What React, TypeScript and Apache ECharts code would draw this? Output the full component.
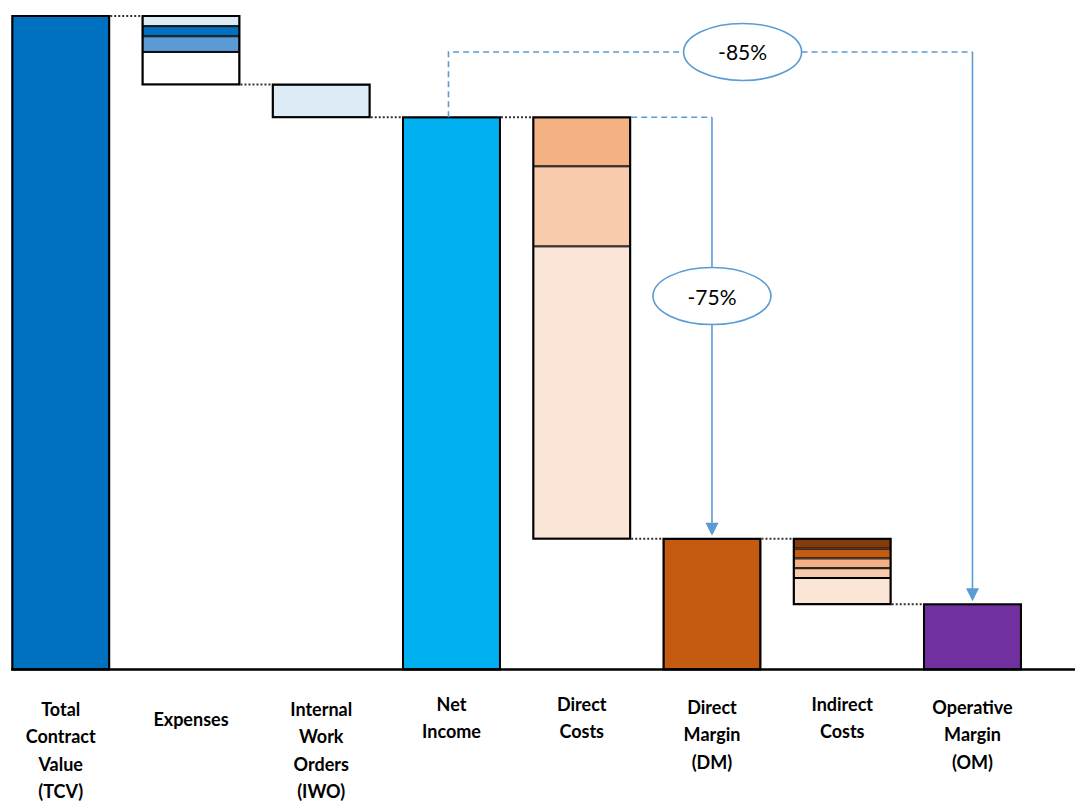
import React, { useEffect, useRef } from "react";
import * as echarts from "echarts";

const categories = [
  "Total\nContract\nValue\n(TCV)",
  "Expenses",
  "Internal\nWork\nOrders\n(IWO)",
  "Net\nIncome",
  "Direct\nCosts",
  "Direct\nMargin\n(DM)",
  "Indirect\nCosts",
  "Operative\nMargin\n(OM)",
];
const isTotal = [true, false, false, true, false, true, false, true];

// segment values per category, bottom to top
const tcvSegments = [100];
const expensesSegments = [5.0, 2.4, 1.55, 1.55];
const iwoSegments = [5.0];
const netIncomeSegments = [84.5];
const directCostsSegments = [44.75, 12.25, 7.5];
const directMarginSegments = [20];
const indirectCostsSegments = [4.0, 1.5, 1.5, 1.5, 1.5];
const operativeMarginSegments = [10];

const percentLabels = ["-85%", "-75%"];

const segments = [
  tcvSegments,
  expensesSegments,
  iwoSegments,
  netIncomeSegments,
  directCostsSegments,
  directMarginSegments,
  indirectCostsSegments,
  operativeMarginSegments,
];

const segmentColors = [
  ["#0070C0"],
  ["#FFFFFF", "#5B9BD5", "#0070C0", "#DDEBF7"],
  ["#DDEBF7"],
  ["#00B0F0"],
  ["#FBE5D6", "#F8CBAD", "#F4B183"],
  ["#C55A11"],
  ["#FBE5D6", "#F8CBAD", "#F4B183", "#C55A11", "#843C0C"],
  ["#7030A0"],
];

// label vertical groups (layout only)
const labelGroup = [2, 3, 2, 0, 0, 1, 0, 1];
const labelMargins = [20.8, 23.8, 25.8, 35.8];

const BAR_W = 97;
const BLUE = "#5B9BD5";

export default function App() {
  const ref = useRef<HTMLDivElement>(null);

  useEffect(() => {
    if (!ref.current) return;
    const chart = echarts.init(ref.current, null, { renderer: "svg" });

    const bases: number[] = [];
    const levels: number[] = [];
    const outline: number[][] = [];
    let level = 0;
    segments.forEach((segs, i) => {
      const sum = segs.reduce((a, b) => a + b, 0);
      let b = 0;
      if (isTotal[i]) {
        level = sum;
      } else {
        b = level - sum;
        level = b;
      }
      bases.push(b);
      levels.push(level);
      outline.push([i, b, b + sum]);
    });

    const maxSeg = Math.max(...segments.map((s) => s.length));
    const series: any[] = [
      {
        type: "bar",
        stack: "w",
        barWidth: BAR_W,
        silent: true,
        data: bases,
        itemStyle: { color: "transparent", borderWidth: 0 },
      },
    ];
    for (let k = 0; k < maxSeg; k++) {
      series.push({
        type: "bar",
        stack: "w",
        barWidth: BAR_W,
        data: segments.map((s, i) =>
          s[k] != null ? { value: s[k], itemStyle: { color: segmentColors[i][k] } } : "-"
        ),
        itemStyle: { borderColor: "#000", borderWidth: 1 },
      });
    }
    // outer outline of each bar
    series.push({
      type: "custom",
      silent: true,
      z: 5,
      data: outline,
      encode: { x: 0, y: [1, 2] },
      renderItem: (params: any, api: any) => {
        const i = api.value(0);
        const lo = api.coord([i, api.value(1)]);
        const hi = api.coord([i, api.value(2)]);
        return {
          type: "rect",
          shape: { x: lo[0] - BAR_W / 2, y: hi[1], width: BAR_W, height: lo[1] - hi[1] },
          style: { fill: "none", stroke: "#000", lineWidth: 2 },
        };
      },
    });

    const xAxes = labelMargins.map((m, g) => ({
      type: "category",
      data: categories,
      gridIndex: 0,
      position: "bottom",
      offset: 0,
      axisLine: { show: false },
      axisTick: { show: false },
      axisLabel: {
        interval: 0,
        margin: m,
        verticalAlign: "top",
        lineHeight: 27.3,
        color: "#000",
        fontFamily: "Lato",
        fontWeight: "bold",
        fontSize: 18,
        formatter: (v: string, i: number) => (labelGroup[i] === g ? v : ""),
      },
    }));

    chart.setOption({
      animation: false,
      grid: {
        left: -4.4,
        width: 1042,
        top: 16,
        height: 653.5,
        containLabel: false,
        outerBoundsMode: "none",
      },
      xAxis: xAxes,
      yAxis: {
        type: "value",
        min: 0,
        max: 100,
        show: false,
        splitLine: { show: false },
      },
      series,
    });

    const px = (ci: number, v: number) =>
      chart.convertToPixel({ xAxisIndex: 0, yAxisIndex: 0 }, [ci, v]) as number[];
    const bw = px(1, 0)[0] - px(0, 0)[0];
    const half = BAR_W / 2 + 1;
    const graphics: any[] = [];

    // baseline
    const y0 = px(0, 0)[1];
    graphics.push({
      type: "line",
      shape: { x1: px(0, 0)[0] - half, y1: y0, x2: 1075, y2: y0 },
      style: { stroke: "#000", lineWidth: 2.5 },
      z: 10,
    });

    // connectors
    for (let i = 0; i < categories.length - 1; i++) {
      const p = px(i, levels[i]);
      const q = px(i + 1, levels[i]);
      graphics.push({
        type: "line",
        shape: { x1: p[0] + half, y1: p[1], x2: q[0] - half, y2: q[1] },
        style: { stroke: "#333", lineWidth: 2, lineDash: [2, 2] },
        z: 10,
      });
    }

    const dashed = { stroke: BLUE, lineWidth: 1.6, lineDash: [6, 4], fill: null };
    const solid = { stroke: BLUE, lineWidth: 1.6, fill: null };
    const arrow = (x: number, yTop: number) => ({
      type: "polygon",
      shape: { points: [[x - 6.5, yTop - 16], [x + 6.5, yTop - 16], [x, yTop - 3]] },
      style: { fill: BLUE },
      z: 20,
    });
    const bubble = (cx: number, cy: number, txt: string) => [
      {
        type: "ellipse",
        shape: { cx, cy, rx: 59, ry: 28.5 },
        style: { fill: "#fff", stroke: BLUE, lineWidth: 1.6 },
        z: 21,
      },
      {
        type: "text",
        x: cx,
        y: cy,
        style: {
          text: txt,
          x: 0,
          y: 0,
          align: "center",
          verticalAlign: "middle",
          textAlign: "center",
          textVerticalAlign: "middle",
          fill: "#000",
          font: "21px Lato",
        },
        z: 22,
      },
    ];

    // -85% annotation: Net Income -> Operative Margin
    const niTop = px(3, levels[3]);
    const omTop = px(7, levels[7]);
    const b85y = px(0, 94.5)[1];
    const b85x = px(5, 0)[0] + 0.235 * bw;
    graphics.push(
      { type: "polyline", shape: { points: [[niTop[0] - 3, niTop[1]], [niTop[0] - 3, b85y], [b85x - 59, b85y]] }, style: dashed, z: 20 },
      { type: "polyline", shape: { points: [[b85x + 59, b85y], [omTop[0], b85y]] }, style: dashed, z: 20 },
      { type: "polyline", shape: { points: [[omTop[0], b85y], [omTop[0], omTop[1] - 12]] }, style: solid, z: 20 },
      arrow(omTop[0], omTop[1]),
      ...bubble(b85x, b85y, percentLabels[0])
    );

    // -75% annotation: Direct Costs -> Direct Margin
    const dcTop = px(4, levels[3]);
    const dmTop = px(5, levels[5]);
    const b75y = px(0, 57.15)[1];
    graphics.push(
      { type: "polyline", shape: { points: [[dcTop[0] + half, dcTop[1]], [dmTop[0], dcTop[1]]] }, style: dashed, z: 20 },
      { type: "polyline", shape: { points: [[dmTop[0], dcTop[1]], [dmTop[0], b75y]] }, style: solid, z: 20 },
      { type: "polyline", shape: { points: [[dmTop[0], b75y], [dmTop[0], dmTop[1] - 12]] }, style: solid, z: 20 },
      arrow(dmTop[0], dmTop[1]),
      ...bubble(dmTop[0], b75y, percentLabels[1])
    );

    chart.setOption({ graphic: graphics });

    return () => chart.dispose();
  }, []);

  return (
    <div
      ref={ref}
      style={{ position: "absolute", left: 0, top: 0, width: 1075, height: 801, background: "#fff" }}
    />
  );
}
